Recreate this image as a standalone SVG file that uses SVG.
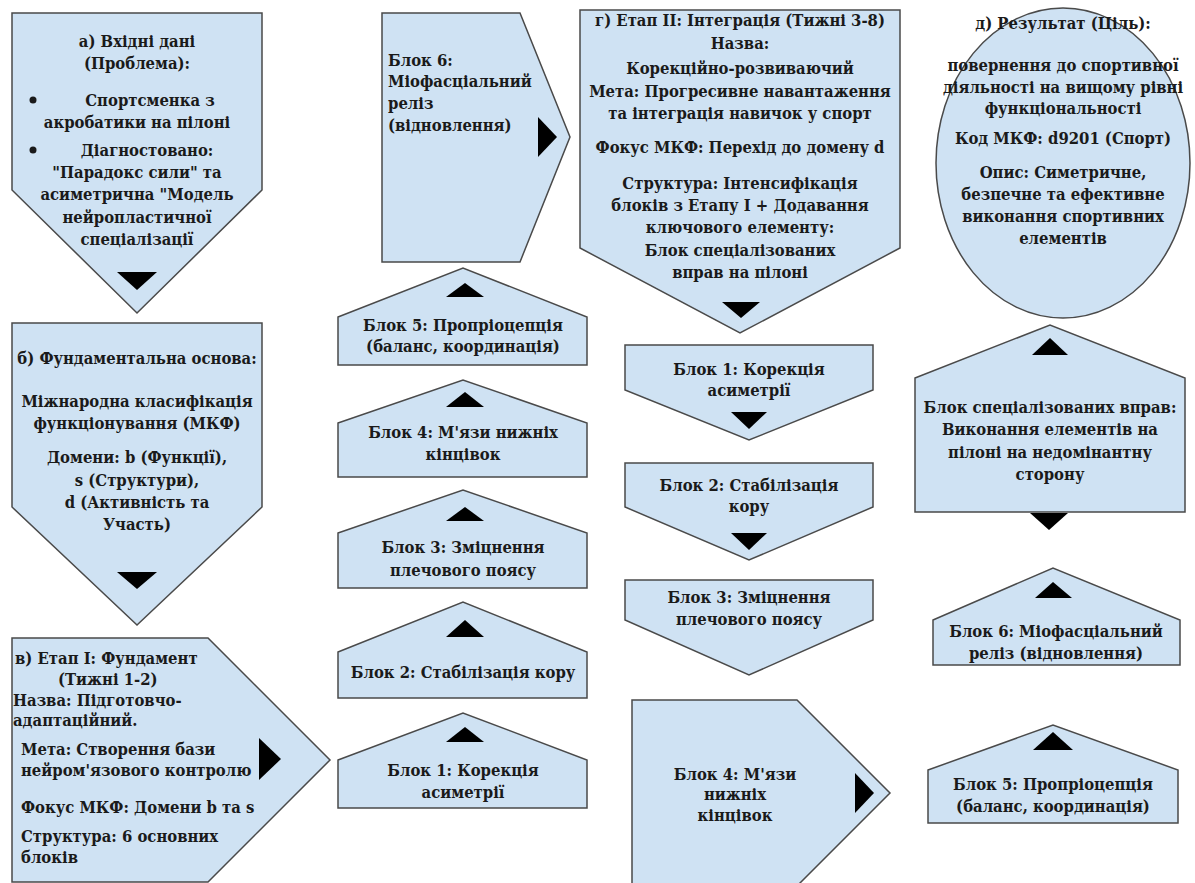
<svg xmlns="http://www.w3.org/2000/svg" width="1195" height="883" viewBox="0 0 1195 883">
<style>
.s{fill:#cfe2f3;stroke:#4a4a4a;stroke-width:1.5;stroke-linejoin:miter}
.a{fill:#000}
text{font-family:"DejaVu Serif Condensed","DejaVu Serif","Liberation Serif",serif;font-weight:bold;font-size:16.5px;fill:#1a1a1a}
.c{text-anchor:middle}
</style>
<rect width="1195" height="883" fill="#fff"/>
<g id="connectors"></g>
<g id="node-a">
<polygon class="s" points="12,13 262,13 262,190 137,313 12,190"/>
<polygon class="a" points="117,272 157,272 137,290"/>
<circle cx="33" cy="100" r="3.5" fill="#1a1a1a"/>
<circle cx="33" cy="150" r="3.5" fill="#1a1a1a"/>
<text class="c" x="137" y="47">а) Вхідні дані</text>
<text class="c" x="137" y="69">(Проблема):</text>
<text class="c" x="150" y="106">Спортсменка з</text>
<text class="c" x="137" y="128">акробатики на пілоні</text>
<text class="c" x="147" y="156">Діагностовано:</text>
<text class="c" x="137" y="178">"Парадокс сили" та</text>
<text class="c" x="137" y="200">асиметрична "Модель</text>
<text class="c" x="137" y="223">нейропластичної</text>
<text class="c" x="137" y="245">спеціалізації</text>
</g>
<g id="node-b">
<polygon class="s" points="12,323 262,323 262,507 137,625 12,507"/>
<polygon class="a" points="117,572 157,572 137,589"/>
<text class="c" x="137" y="364">б) Фундаментальна основа:</text>
<text class="c" x="137" y="407">Міжнародна класифікація</text>
<text class="c" x="137" y="429">функціонування (МКФ)</text>
<text class="c" x="137" y="463">Домени: b (Функції),</text>
<text class="c" x="137" y="486">s (Структури),</text>
<text class="c" x="137" y="508">d (Активність та</text>
<text class="c" x="137" y="530">Участь)</text>
</g>
<g id="node-v">
<polygon class="s" points="12,638 208,638 330,760 208,882 12,882"/>
<polygon class="a" points="259,738 259,780 281,759"/>
<text x="15" y="664">в) Етап I: Фундамент</text>
<text x="58" y="685">(Тижні 1-2)</text>
<text x="13" y="706">Назва: Підготовчо-</text>
<text x="13" y="726">адаптаційний.</text>
<text x="21" y="755">Мета: Створення бази</text>
<text x="21" y="776">нейром'язового контролю</text>
<text x="21" y="813">Фокус МКФ: Домени b та s</text>
<text x="21" y="842">Структура: 6 основних</text>
<text x="21" y="863">блоків</text>
</g>
<g id="node-s1-b6">
<polygon class="s" points="382,13 520,13 570,137 520,262 382,262"/>
<polygon class="a" points="538,117 538,157 557,137"/>
<text x="388" y="66">Блок 6:</text>
<text x="388" y="87">Міофасціальний</text>
<text x="388" y="109">реліз</text>
<text x="388" y="131">(відновлення)</text>
</g>
<g id="node-s1-b5">
<polygon class="s" points="338,317 463,268 587,317 587,365 338,365"/>
<polygon class="a" points="446,297 484,297 465,283"/>
<text class="c" x="463" y="331">Блок 5: Пропріоцепція</text>
<text class="c" x="463" y="352">(баланс, координація)</text>
</g>
<g id="node-s1-b4">
<polygon class="s" points="338,423 463,380 587,423 587,477 338,477"/>
<polygon class="a" points="446,407 484,407 465,392"/>
<text class="c" x="463" y="438">Блок 4: М'язи нижніх</text>
<text class="c" x="463" y="460">кінцівок</text>
</g>
<g id="node-s1-b3">
<polygon class="s" points="338,533 463,490 587,533 587,588 338,588"/>
<polygon class="a" points="446,521 484,521 465,507"/>
<text class="c" x="463" y="553">Блок 3: Зміцнення</text>
<text class="c" x="463" y="576">плечового поясу</text>
</g>
<g id="node-s1-b2">
<polygon class="s" points="338,652 463,602 587,652 587,698 338,698"/>
<polygon class="a" points="446,637 484,637 465,620"/>
<text class="c" x="463" y="678">Блок 2: Стабілізація кору</text>
</g>
<g id="node-s1-b1">
<polygon class="s" points="338,760 463,713 587,760 587,808 338,808"/>
<polygon class="a" points="446,742 484,742 465,727"/>
<text class="c" x="463" y="776">Блок 1: Корекція</text>
<text class="c" x="463" y="798">асиметрії</text>
</g>
<g id="node-g">
<polygon class="s" points="580,10 900,10 900,248 740,333 580,248"/>
<polygon class="a" points="722,302 760,302 741,318"/>
<text class="c" x="740" y="26">г) Етап II: Інтеграція (Тижні 3-8)</text>
<text class="c" x="740" y="49">Назва:</text>
<text class="c" x="740" y="74">Корекційно-розвиваючий</text>
<text class="c" x="740" y="97">Мета: Прогресивне навантаження</text>
<text class="c" x="740" y="119">та інтеграція навичок у спорт</text>
<text class="c" x="740" y="153">Фокус МКФ: Перехід до домену d</text>
<text class="c" x="740" y="189">Структура: Інтенсифікація</text>
<text class="c" x="740" y="211">блоків з Етапу I + Додавання</text>
<text class="c" x="740" y="233">ключового елементу:</text>
<text class="c" x="740" y="256">Блок спеціалізованих</text>
<text class="c" x="740" y="278">вправ на пілоні</text>
</g>
<g id="node-s2-b1">
<polygon class="s" points="625,345 873,345 873,390 749,440 625,390"/>
<polygon class="a" points="731,412 767,412 749,429"/>
<text class="c" x="749" y="375">Блок 1: Корекція</text>
<text class="c" x="749" y="396">асиметрії</text>
</g>
<g id="node-s2-b2">
<polygon class="s" points="625,463 873,463 873,507 749,560 625,507"/>
<polygon class="a" points="731,533 767,533 749,550"/>
<text class="c" x="749" y="491">Блок 2: Стабілізація</text>
<text class="c" x="749" y="512">кору</text>
</g>
<g id="node-s2-b3">
<polygon class="s" points="625,580 873,580 873,620 749,675 625,620"/>
<text class="c" x="749" y="603">Блок 3: Зміцнення</text>
<text class="c" x="749" y="625">плечового поясу</text>
</g>
<g id="node-s2-b4">
<polygon class="s" points="632,700 797,700 890,793 797,886 632,886"/>
<polygon class="a" points="855,773 855,813 874,793"/>
<text class="c" x="735" y="780">Блок 4: М'язи</text>
<text class="c" x="735" y="800">нижніх</text>
<text class="c" x="735" y="821">кінцівок</text>
</g>
<g id="node-d">
<ellipse class="s" cx="1063" cy="163" rx="127" ry="155"/>
<text class="c" x="1063" y="29">д) Результат (Ціль):</text>
<text class="c" x="1063" y="71">повернення до спортивної</text>
<text class="c" x="1063" y="93">діяльності на вищому рівні</text>
<text class="c" x="1063" y="114">функціональності</text>
<text class="c" x="1063" y="144">Код МКФ: d9201 (Спорт)</text>
<text class="c" x="1063" y="178">Опис: Симетричне,</text>
<text class="c" x="1063" y="200">безпечне та ефективне</text>
<text class="c" x="1063" y="222">виконання спортивних</text>
<text class="c" x="1063" y="244">елементів</text>
</g>
<g id="node-s3-spec">
<polygon class="s" points="915,378 1050,325 1185,378 1185,512 915,512"/>
<polygon class="a" points="1032,355 1068,355 1050,338"/>
<polygon class="a" points="1030,513 1068,513 1049,530"/>
<text class="c" x="1050" y="413">Блок спеціалізованих вправ:</text>
<text class="c" x="1050" y="435">Виконання елементів на</text>
<text class="c" x="1050" y="458">пілоні на недомінантну</text>
<text class="c" x="1050" y="480">сторону</text>
</g>
<g id="node-s3-b6">
<polygon class="s" points="933,620 1053,568 1180,620 1180,665 933,665"/>
<polygon class="a" points="1035,598 1072,598 1053,582"/>
<text class="c" x="1056" y="637">Блок 6: Міофасціальний</text>
<text class="c" x="1056" y="659">реліз (відновлення)</text>
</g>
<g id="node-s3-b5">
<polygon class="s" points="928,770 1053,725 1178,770 1178,823 928,823"/>
<polygon class="a" points="1033,750 1073,750 1053,732"/>
<text class="c" x="1053" y="790">Блок 5: Пропріоцепція</text>
<text class="c" x="1053" y="812">(баланс, координація)</text>
</g>
</svg>
